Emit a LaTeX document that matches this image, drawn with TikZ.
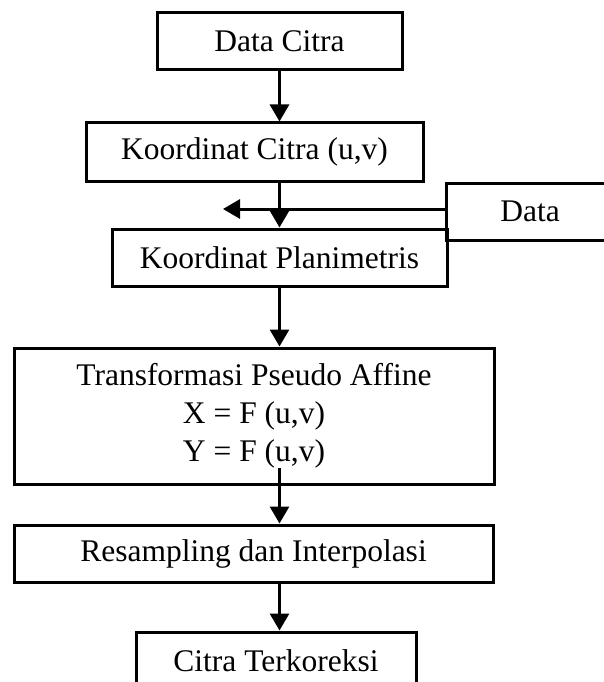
\documentclass[tikz,border=0pt]{standalone}
\usepackage{fontspec}
\setmainfont{Liberation Serif}
\usetikzlibrary{arrows.meta,calc}
\begin{document}
\begin{tikzpicture}[x=1pt,y=-1pt,
  box/.style={draw=black,line width=3pt,minimum width=#1,inner sep=0pt,
    font=\fontsize{31.5}{38}\selectfont},
  conn/.style={line width=3pt,-{Triangle[length=17pt,width=19pt]}}]
\useasboundingbox (0,0) rectangle (604,682);
\clip (0,0) rectangle (604,682);
\fill[white] (0,0) rectangle (604,682);
\node[box=245pt,minimum height=57pt] (dc) at (279.5,41.5) {Data Citra};
\node[box=337pt,minimum height=58pt] (kc) at (254.5,152) {Koordinat Citra (u,v)};
\node[box=168pt,minimum height=57pt] (data) at (530,211.5) {Data};
\node[box=335pt,minimum height=57pt] (pl) at (279.5,257.5) {Koordinat Planimetris};
\node[box=480pt,minimum height=136pt,align=center] (tr) at (254,416)
  {Transformasi Pseudo Affine\\X = F (u,v)\\Y = F (u,v)};
\node[box=479pt,minimum height=57pt] (rs) at (253.5,553.5) {Resampling dan Interpolasi};
\node[box=280pt,minimum height=58pt] (ct) at (276,661) {Citra Terkoreksi};
\coordinate (tip) at (223,209);
\coordinate (trin) at (279.5,468);
\draw[conn] (dc.south) -- (dc.south |- kc.north);
\draw[conn] (pl.north |- kc.south) -- (pl.north);
\draw[conn] (tip -| data.west) -- (tip);
\draw[conn] (pl.south) -- (pl.south |- tr.north);
\draw[conn] (trin) -- (trin |- rs.north);
\draw[conn] (pl.south |- rs.south) -- (pl.south |- ct.north);
\end{tikzpicture}
\end{document}
